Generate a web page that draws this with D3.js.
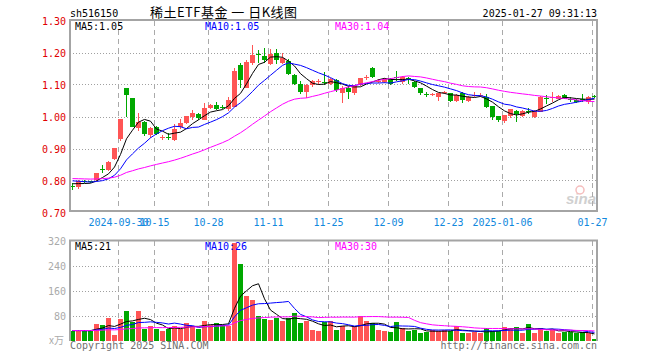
<!DOCTYPE html>
<html><head><meta charset="utf-8">
<script src="https://cdn.jsdelivr.net/npm/d3@7/dist/d3.min.js"></script>
<style>body{margin:0;background:#fff}svg{display:block}</style>
</head><body>
<svg id="c" width="660" height="360"></svg>
<script>
const dates = ["2024-09-18","2024-09-19","2024-09-20","2024-09-23","2024-09-24","2024-09-25","2024-09-26","2024-09-27","2024-09-30",
"2024-10-08","2024-10-09","2024-10-10","2024-10-11","2024-10-14","2024-10-15","2024-10-16","2024-10-17","2024-10-18","2024-10-21","2024-10-22","2024-10-23","2024-10-24","2024-10-25","2024-10-28","2024-10-29","2024-10-30","2024-10-31",
"2024-11-01","2024-11-04","2024-11-05","2024-11-06","2024-11-07","2024-11-08","2024-11-11","2024-11-12","2024-11-13","2024-11-14","2024-11-15","2024-11-18","2024-11-19","2024-11-20","2024-11-21","2024-11-22","2024-11-25","2024-11-26","2024-11-27","2024-11-28","2024-11-29",
"2024-12-02","2024-12-03","2024-12-04","2024-12-05","2024-12-06","2024-12-09","2024-12-10","2024-12-11","2024-12-12","2024-12-13","2024-12-16","2024-12-17","2024-12-18","2024-12-19","2024-12-20","2024-12-23","2024-12-24","2024-12-25","2024-12-26","2024-12-27","2024-12-30","2024-12-31",
"2025-01-02","2025-01-03","2025-01-06","2025-01-07","2025-01-08","2025-01-09","2025-01-10","2025-01-13","2025-01-14","2025-01-15","2025-01-16","2025-01-17","2025-01-20","2025-01-21","2025-01-22","2025-01-23","2025-01-24","2025-01-27"];
const open = [0.784,0.779,0.797,0.797,0.801,0.836,0.832,0.867,0.930,1.089,1.057,0.965,0.982,0.942,0.966,0.933,0.936,0.926,0.968,0.980,0.999,1.007,0.990,1.027,1.037,1.031,1.023,1.031,1.161,1.089,1.167,1.194,1.188,1.165,1.198,1.168,1.174,1.130,1.101,1.076,1.097,1.110,1.109,1.103,1.114,1.072,1.090,1.074,1.098,1.123,1.153,1.110,1.108,1.117,1.123,1.108,1.119,1.109,1.088,1.070,1.068,1.060,1.074,1.072,1.050,1.074,1.048,1.066,1.064,1.061,1.032,1.001,0.985,1.002,1.017,1.002,1.016,0.999,1.015,1.058,1.060,1.056,1.067,1.055,1.052,1.054,1.046,1.065];
const high = [0.791,0.802,0.801,0.799,0.825,0.850,0.860,0.903,0.992,1.090,1.057,1.011,0.985,0.968,0.970,0.942,0.947,0.978,0.992,1.003,1.019,1.010,1.043,1.040,1.044,1.035,1.060,1.153,1.168,1.176,1.222,1.207,1.213,1.211,1.210,1.200,1.180,1.134,1.112,1.102,1.114,1.118,1.140,1.120,1.117,1.095,1.095,1.099,1.121,1.131,1.154,1.118,1.120,1.120,1.142,1.127,1.122,1.112,1.090,1.078,1.074,1.074,1.080,1.075,1.070,1.077,1.063,1.077,1.072,1.070,1.034,1.002,1.006,1.025,1.019,1.019,1.028,1.020,1.063,1.068,1.077,1.067,1.069,1.060,1.054,1.070,1.063,1.066];
const low = [0.770,0.774,0.792,0.793,0.799,0.824,0.830,0.865,0.925,1.000,0.966,0.955,0.938,0.932,0.942,0.926,0.928,0.922,0.962,0.976,0.990,0.990,0.988,1.025,1.020,1.022,1.018,1.030,1.089,1.088,1.160,1.168,1.168,1.160,1.165,1.165,1.130,1.098,1.070,1.057,1.093,1.100,1.098,1.100,1.078,1.043,1.056,1.067,1.095,1.115,1.120,1.105,1.104,1.100,1.110,1.103,1.102,1.088,1.066,1.060,1.064,1.047,1.070,1.046,1.046,1.043,1.045,1.062,1.060,1.028,0.990,0.984,0.980,0.996,0.983,1.000,1.008,0.996,1.013,1.040,1.046,1.054,1.054,1.046,1.043,1.046,1.038,1.058];
const close = [0.780,0.800,0.796,0.795,0.822,0.834,0.857,0.902,0.992,1.067,0.968,0.983,0.944,0.965,0.944,0.935,0.934,0.962,0.980,1.001,1.011,0.994,1.026,1.037,1.022,1.029,1.052,1.143,1.115,1.170,1.193,1.192,1.177,1.196,1.177,1.183,1.132,1.101,1.076,1.100,1.111,1.112,1.107,1.116,1.082,1.090,1.077,1.096,1.119,1.125,1.122,1.112,1.118,1.103,1.121,1.124,1.117,1.091,1.074,1.069,1.070,1.072,1.076,1.050,1.067,1.051,1.061,1.068,1.066,1.030,0.999,0.989,1.004,1.023,1.009,1.017,1.014,1.017,1.061,1.056,1.062,1.065,1.056,1.053,1.045,1.053,1.061,1.060];
const volume = [32,32,32,32,53,50,72,18,69,95,60,95,37,48,37,31,37,48,37,56,48,37,63,50,56,50,48,311,245,141,131,80,70,65,73,63,71,87,55,63,33,29,60,63,34,45,34,45,79,63,55,34,31,26,58,39,31,34,24,26,34,31,34,29,47,25,23,26,23,41,31,31,44,41,44,25,54,25,40,30,34,25,27,26,24,26,24,5];
// closes / volumes of the 29 sessions before the window (estimated from where the MA lines start)
const priorClose = [0.812,0.815,0.810,0.806,0.808,0.811,0.814,0.809,0.805,0.807,0.810,0.813,0.811,0.808,0.806,0.809,0.812,0.810,0.807,0.807,0.812,0.810,0.806,0.805,0.807,0.798,0.794,0.790,0.787];
const priorVolume = [30,35,28,33,31,36,29,32,34,30,33,31,29,35,32,30,34,31,33,28,32,35,30,33,31,29,34,32,30];
const priceTicks = [0.70,0.80,0.90,1.00,1.10,1.20,1.30];
const volTicks = [80,160,240,320];
const tickDates = ["2024-09-30","2024-10-15","2024-10-28","2024-11-11","2024-11-25","2024-12-09","2024-12-23","2025-01-06","2025-01-27"];
const tickLabels = ["2024-09-30","10-15","10-28","11-11","11-25","12-09","12-23","2025-01-06","01-27"];
const maPeriods = [5,10,30];
const maPriceLabels = ["MA5:1.05","MA10:1.05","MA30:1.04"];
const maVolLabels = ["MA5:21","MA10:26","MA30:30"];

const svg = d3.select("#c");
const MONO = "'DejaVu Sans Mono','Liberation Mono',monospace";
const UP = "#ff5555", DOWN = "#00a800";
const maColors = ["#000000","#0000ff","#ff00ff"];
const L = 70, R = 597;
const n = dates.length;
const x = d3.scaleLinear().domain([0, n]).range([L, L + 6 * n]);
const y = d3.scaleLinear().domain([0.70, 1.30]).range([212.5, 20.5]);
const yv = d3.scaleLinear().domain([0, 320]).range([340.5, 240.5]);
const isUp = i => close[i] > open[i];

function ma(series, prior, p) {
  const all = prior.concat(series);
  const k = prior.length;
  return series.map((_, i) => d3.mean(all.slice(k + i - p + 1, k + i + 1)));
}

// ---- grids
function grid(yScale, ticks, top, bottom) {
  const g = svg.append("g");
  g.selectAll("line.h").data(ticks).enter().append("line")
    .attr("x1", L).attr("x2", R)
    .attr("y1", d => Math.round(yScale(d)) + 0.5).attr("y2", d => Math.round(yScale(d)) + 0.5)
    .attr("stroke", "#a0a0a0").attr("stroke-dasharray", "1,2");
  g.selectAll("line.v").data(tickDates).enter().append("line")
    .attr("x1", d => x(dates.indexOf(d)) + 0.5).attr("x2", d => x(dates.indexOf(d)) + 0.5)
    .attr("y1", top).attr("y2", bottom)
    .attr("stroke", "#aaaaaa").attr("stroke-dasharray", "5,4");
}
grid(y, [0.80,0.90,1.00,1.10,1.20], 21, 211);
grid(yv, [80,160,240], 241, 340);

// ---- watermark
const wm = svg.append("g").attr("opacity", 0.55);
wm.append("text").attr("x", 566).attr("y", 204).attr("font-family", "Arial, 'Liberation Sans'")
  .attr("font-style", "italic").attr("font-weight", "bold").attr("font-size", 15).attr("fill", "#aaaaaa").text("sina");
wm.append("circle").attr("cx", 580).attr("cy", 190).attr("r", 4).attr("fill", "none").attr("stroke", "#e88").attr("stroke-width", 1.5);

// ---- candles
const cg = svg.append("g").attr("shape-rendering", "crispEdges");
const idx = d3.range(n);
cg.selectAll("line.w").data(idx).enter().append("line")
  .attr("x1", i => x(i) + 2.5).attr("x2", i => x(i) + 2.5)
  .attr("y1", i => y(high[i])).attr("y2", i => y(low[i]))
  .attr("stroke", i => isUp(i) ? UP : DOWN);
cg.selectAll("rect").data(idx).enter().append("rect")
  .attr("x", i => x(i)).attr("width", 5)
  .attr("y", i => y(Math.max(open[i], close[i])))
  .attr("height", i => Math.max(1, Math.abs(y(open[i]) - y(close[i]))))
  .attr("fill", i => isUp(i) ? UP : DOWN);

// ---- price MAs
maPeriods.forEach((p, k) => {
  const m = ma(close, priorClose, p);
  svg.append("path").datum(m)
    .attr("d", d3.line().x((d, i) => x(i) + 2.5).y(d => y(d)))
    .attr("fill", "none").attr("stroke", maColors[k]).attr("stroke-width", 1);
});

// ---- volume bars
const vg = svg.append("g").attr("shape-rendering", "crispEdges");
vg.selectAll("rect").data(idx).enter().append("rect")
  .attr("x", i => x(i)).attr("width", 5)
  .attr("y", i => yv(volume[i])).attr("height", i => yv(0) - yv(volume[i]))
  .attr("fill", i => isUp(i) ? UP : DOWN);
maPeriods.forEach((p, k) => {
  const m = ma(volume, priorVolume, p);
  svg.append("path").datum(m)
    .attr("d", d3.line().x((d, i) => x(i) + 2.5).y(d => yv(d)))
    .attr("fill", "none").attr("stroke", maColors[k]).attr("stroke-width", 1);
});

// ---- frames
const fr = svg.append("g").attr("fill", "none").attr("stroke", "#a4a4a4").attr("stroke-width", 2);
fr.append("path").attr("d", `M${L},211 L${L},20 L${R},20 L${R},211 Z`);
fr.append("path").attr("d", `M${L},341 L${L},240.5 L${R},240.5 L${R},341`);

// ---- axis labels
const ya = svg.append("g").attr("font-family", MONO).attr("font-size", 10).attr("text-anchor", "end");
ya.selectAll("text").data(priceTicks).enter().append("text")
  .attr("x", 66).attr("y", d => y(d) + 4).attr("fill", "#e00000").text(d => d3.format(".2f")(d));
const yva = svg.append("g").attr("font-family", MONO).attr("font-size", 10).attr("text-anchor", "end").attr("fill", "#aaaaaa");
yva.selectAll("text").data(volTicks).enter().append("text")
  .attr("x", 66).attr("y", d => yv(d) + 4).text(d => d);
yva.append("text").attr("x", 64).attr("y", 344).attr("font-family", "'Noto Sans CJK SC',sans-serif").attr("font-size", 10).text("x万");

const xa = svg.append("g").attr("font-family", MONO).attr("font-size", 10).attr("text-anchor", "middle").attr("fill", "#1188dd");
xa.selectAll("text").data(tickDates).enter().append("text")
  .attr("x", d => x(dates.indexOf(d)) + 0.5).attr("y", 225.5).text((d, i) => tickLabels[i]);

// ---- titles
svg.append("text").attr("x", 70).attr("y", 16.5).attr("font-family", MONO).attr("font-size", 10).attr("fill", "#000").text("sh516150");
svg.append("text").attr("x", 150).attr("y", 17).attr("font-family", "'Noto Sans CJK SC',sans-serif").attr("font-size", 13)
  .attr("textLength", 147).attr("lengthAdjust", "spacing").attr("xml:space", "preserve").attr("fill", "#000").text("稀土ETF基金 一 日K线图");
svg.append("text").attr("x", 597).attr("y", 16.5).attr("text-anchor", "end").attr("font-family", MONO).attr("font-size", 10).attr("fill", "#000").text("2025-01-27 09:31:13");

const labX = [75, 205, 335];
maPriceLabels.forEach((t, k) => svg.append("text").attr("x", labX[k]).attr("y", 29.5).attr("font-family", MONO).attr("font-size", 10).attr("fill", maColors[k]).text(t));
maVolLabels.forEach((t, k) => svg.append("text").attr("x", labX[k]).attr("y", 250).attr("font-family", MONO).attr("font-size", 10).attr("fill", maColors[k]).text(t));

svg.append("text").attr("x", 70).attr("y", 349).attr("font-family", MONO).attr("font-size", 10).attr("fill", "#707070").text("Copyright 2025 SINA.COM");
svg.append("text").attr("x", 597).attr("y", 348.5).attr("text-anchor", "end").attr("font-family", MONO).attr("font-size", 10).attr("fill", "#707070").text("http://finance.sina.com.cn");
</script>
</body></html>
